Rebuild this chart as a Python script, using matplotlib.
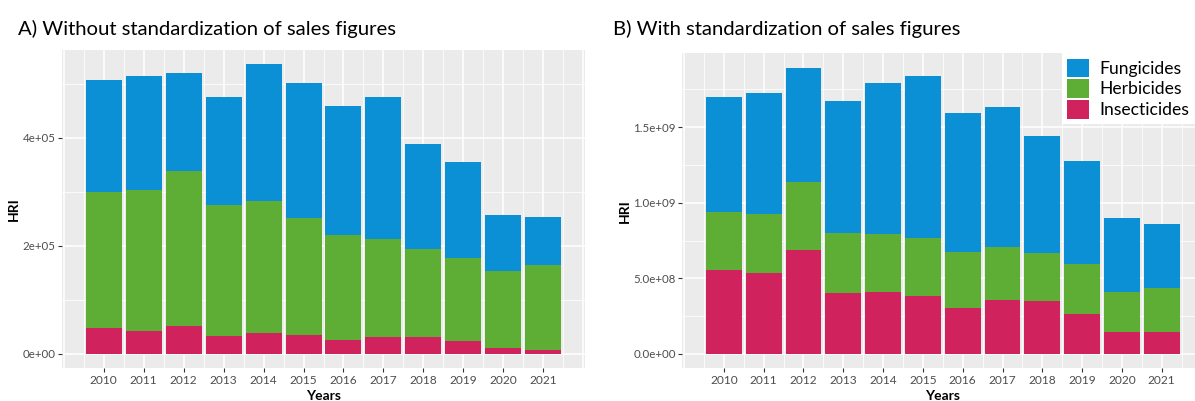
import warnings
warnings.filterwarnings('ignore')
import numpy as np
import matplotlib; matplotlib.use('Agg')
import matplotlib.pyplot as plt
from matplotlib.patches import Patch
from matplotlib.ticker import FuncFormatter, MultipleLocator

years = list(range(2010, 2022))
groups = ['Fungicides', 'Herbicides', 'Insecticides']

# A) raw HRI
hri_raw_insecticides = [46.7e3, 41.2e3, 51.7e3, 33.2e3, 37.5e3, 34.4e3, 24.6e3, 30.7e3, 30.7e3, 22.7e3, 11.0e3, 6.7e3]
hri_raw_herbicides = [253.0e3, 262.2e3, 287.3e3, 241.2e3, 245.5e3, 216.6e3, 195.7e3, 182.3e3, 163.8e3, 155.1e3, 141.6e3, 157.6e3]
hri_raw_fungicides = [206.8e3, 210.6e3, 180.0e3, 201.3e3, 252.5e3, 251.0e3, 238.2e3, 262.0e3, 193.3e3, 177.9e3, 104.1e3, 88.7e3]

# B) HRI with standardized sales figures
hri_std_insecticides = [0.553e9, 0.538e9, 0.685e9, 0.406e9, 0.410e9, 0.380e9, 0.301e9, 0.355e9, 0.347e9, 0.261e9, 0.143e9, 0.147e9]
hri_std_herbicides = [0.388e9, 0.385e9, 0.449e9, 0.392e9, 0.382e9, 0.390e9, 0.370e9, 0.351e9, 0.322e9, 0.336e9, 0.270e9, 0.287e9]
hri_std_fungicides = [0.755e9, 0.803e9, 0.759e9, 0.873e9, 1.000e9, 1.068e9, 0.919e9, 0.926e9, 0.774e9, 0.677e9, 0.484e9, 0.423e9]

COLORS = {'Fungicides': '#0B8FD5', 'Herbicides': '#5EAD35', 'Insecticides': '#D0225D'}
PANEL_BG = '#EBEBEB'
TICK_FONT = 'Lato'
TITLE_FONT = 'Lato'

W, H = 1195, 401
fig = plt.figure(figsize=(W / 100, H / 100), dpi=100)
fig.patch.set_facecolor('white')


def px_axes(left, top, right, bottom):
    return fig.add_axes([left / W, 1 - bottom / H, (right - left) / W, (bottom - top) / H])


def stacked_panel(ax, insect, herb, fung, major, fmt, label_x):
    x = np.array(years)
    insect, herb, fung = map(np.array, (insect, herb, fung))
    ax.bar(x, insect, width=0.9, color=COLORS['Insecticides'], zorder=3)
    ax.bar(x, herb, width=0.9, bottom=insect, color=COLORS['Herbicides'], zorder=3)
    ax.bar(x, fung, width=0.9, bottom=insect + herb, color=COLORS['Fungicides'], zorder=3)

    top = (insect + herb + fung).max()
    ax.set_ylim(-0.05 * top, 1.05 * top)
    ax.set_xlim(2009.55 - 0.05 * 11.9, 2021.45 + 0.05 * 11.9)

    ax.set_facecolor(PANEL_BG)
    for s in ax.spines.values():
        s.set_visible(False)

    ax.yaxis.set_major_locator(MultipleLocator(major))
    ax.yaxis.set_minor_locator(MultipleLocator(major / 2))
    ax.yaxis.set_major_formatter(FuncFormatter(lambda v, p: fmt.format(v)))
    ax.set_xticks(years)
    ax.set_xticks(np.arange(2009.5, 2022.5, 1.0), minor=True)
    ax.grid(which='major', color='white', linewidth=1.1, zorder=0)
    ax.grid(which='minor', color='white', linewidth=0.55, zorder=0)
    for yr in (2009, 2022):
        ax.axvline(yr, color='white', linewidth=1.1, zorder=0)

    ax.tick_params(which='major', length=2.8, width=0.8, color='#333333',
                   labelcolor='#4D4D4D', labelsize=8.6, pad=2)
    ax.tick_params(axis='y', labelsize=8.3)
    ax.tick_params(which='minor', length=0)
    for lab in ax.get_xticklabels() + ax.get_yticklabels():
        lab.set_family(TICK_FONT)

    ax.set_xlabel('Years', fontsize=10, fontweight='bold', family=TICK_FONT)
    ax.xaxis.set_label_coords(0.5, -0.087)
    ax.xaxis.label.set_va('center')
    ax.set_ylabel('HRI', fontsize=10, fontweight='bold', family=TICK_FONT)
    ax.yaxis.set_label_coords(label_x, 0.5)
    ax.yaxis.label.set_va('center')


ax_a = px_axes(62, 50, 585, 368)
stacked_panel(ax_a, hri_raw_insecticides, hri_raw_herbicides, hri_raw_fungicides,
              2e5, '{:.0e}', (14 - 62) / 523)

ax_b = px_axes(682.3, 53.3, 1203.3, 368.3)
stacked_panel(ax_b, hri_std_insecticides, hri_std_herbicides, hri_std_fungicides,
              0.5e9, '{:.1e}', (625 - 682.3) / 521)

fig.text(18 / W, 1 - 35 / H, 'A) Without standardization of sales figures',
         fontsize=14.6, family=TITLE_FONT, va='baseline', ha='left')
fig.text(613 / W, 1 - 35 / H, 'B) With standardization of sales figures',
         fontsize=14.6, family=TITLE_FONT, va='baseline', ha='left')

handles = [Patch(facecolor=COLORS[g], edgecolor='none', label=g) for g in groups]
leg = fig.legend(handles=handles, loc='upper left', bbox_to_anchor=(1062 / W, 1 - 53.3 / H),
                 frameon=True, fancybox=False, framealpha=1, facecolor='white', edgecolor='none',
                 prop={'family': TITLE_FONT, 'size': 12.6},
                 handlelength=1.24, handleheight=1.24, handletextpad=0.62,
                 labelspacing=0.14, borderpad=0.3, borderaxespad=0)

fig.savefig('out.png', dpi=100)
plt.close(fig)
